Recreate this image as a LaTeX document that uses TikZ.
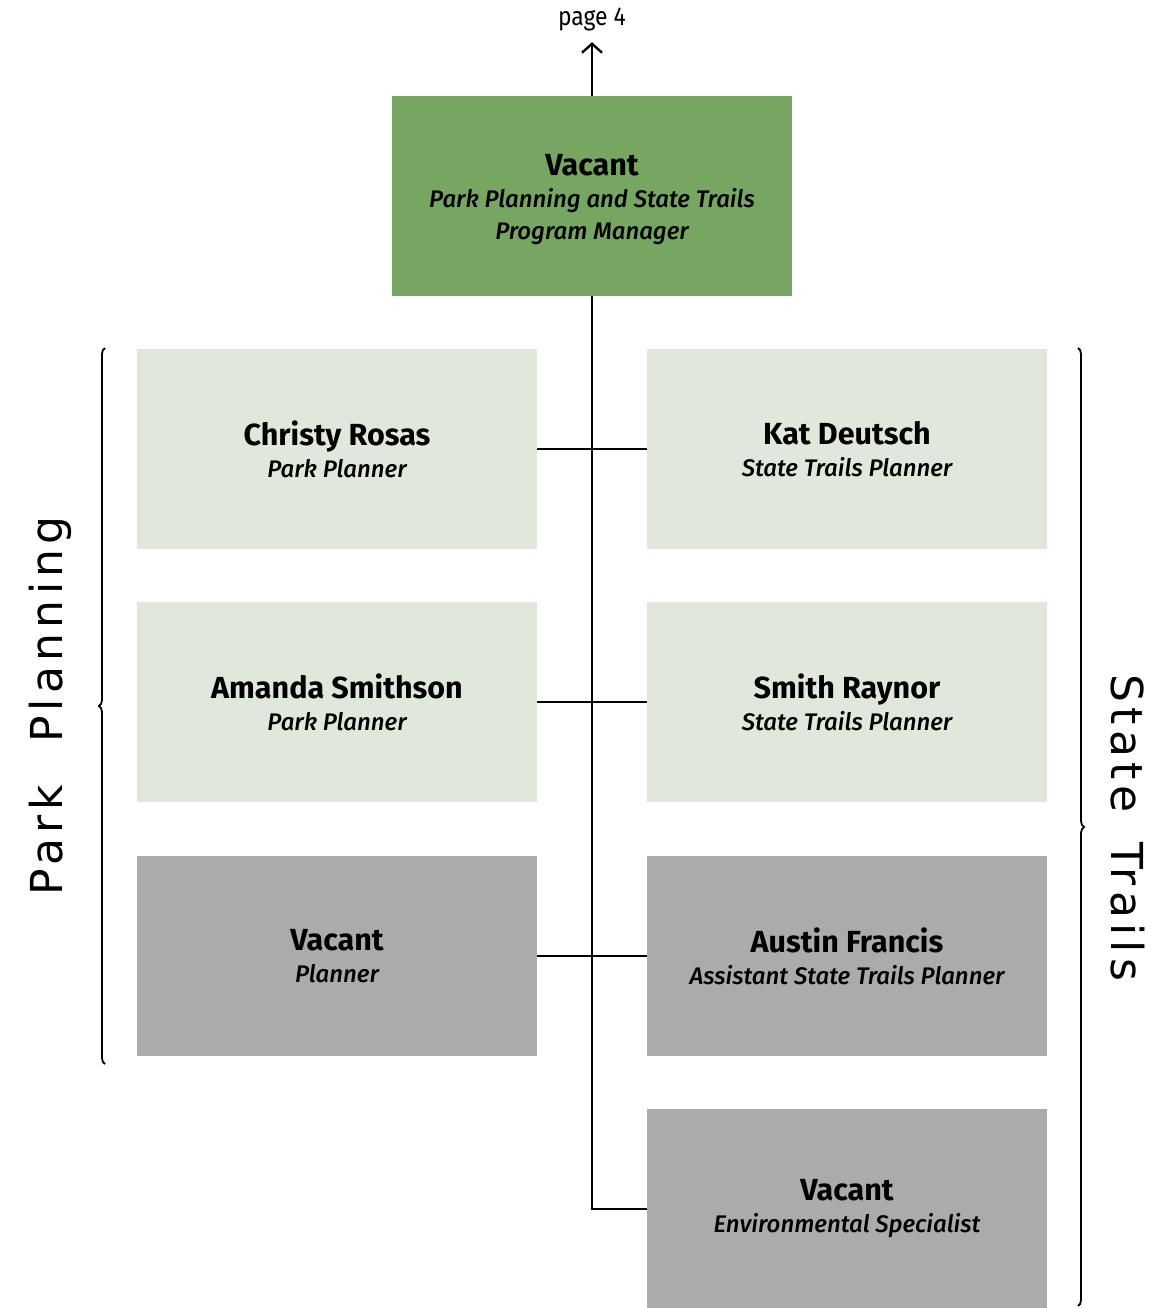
\documentclass[tikz,border=0pt]{standalone}
\usepackage{fontspec}
\setmainfont{Fira Sans}[BoldFont={Fira Sans Bold}, ItalicFont={Fira Sans Medium Italic}]
\newfontfamily\sidefont{DejaVu Sans}[LetterSpace=12]
\usetikzlibrary{arrows.meta,decorations.pathreplacing}
\definecolor{topgreen}{HTML}{76A661}
\definecolor{lightgreen}{HTML}{E0E8DB}
\definecolor{boxgray}{HTML}{ABABAB}
\tikzset{
  box/.style={minimum width=400pt, minimum height=200pt, inner sep=0pt, align=center, font=\fontsize{24}{32}\selectfont},
  topbox/.style={box, fill=topgreen},
  lightbox/.style={box, fill=lightgreen},
  graybox/.style={box, fill=boxgray},
  boxtext/.style={inner sep=0pt, align=center, font=\fontsize{24}{32}\selectfont},
  conn/.style={line width=2.4pt},
  bracestyle/.style={line width=1.8pt, decorate, decoration={brace, amplitude=6pt}},
  side/.style={font=\sidefont\fontsize{44}{50}\selectfont}
}
\newcommand{\nm}[1]{{\fontsize{30.5}{34}\selectfont\bfseries #1}}
\begin{document}
\begin{tikzpicture}[x=1pt,y=-1pt]
\useasboundingbox (0,0) rectangle (1153,1308);
\node[topbox] (top) at (592,196) {};
\node[boxtext] (toptext) at (592,200) {\nm{Vacant}\\\itshape Park Planning and State Trails\\\itshape Program Manager};
\node[lightbox] (cr) at (337,449) {\nm{Christy Rosas}\\\itshape Park Planner};
\node[lightbox] (kd) at (847,449) {\nm{Kat Deutsch}\\\itshape State Trails Planner};
\node[lightbox] (as) at (337,702) {\nm{Amanda Smithson}\\\itshape Park Planner};
\node[lightbox] (sr) at (847,702) {\nm{Smith Raynor}\\\itshape State Trails Planner};
\node[graybox] (vp) at (337,956) {\nm{Vacant}\\\itshape Planner};
\node[graybox] (af) at (847,956) {\nm{Austin Francis}\\\itshape Assistant State Trails Planner};
\node[graybox] (ve) at (847,1209) {\nm{Vacant}\\\itshape Environmental Specialist};
\node[font=\fontsize{26}{30}\selectfont\addfontfeature{FakeStretch=0.88}] (pg) at (592,19) {page 4};
\coordinate (spineend) at (592,1209);
\draw[conn, shorten >=8pt, -{Straight Barb[length=9pt,width=20pt,line width=2.4pt]}] (top.north) -- (pg.south);
\draw[conn] (top.south) -- (spineend) -- (ve.west);
\draw[conn] (cr.east) -- (kd.west);
\draw[conn] (as.east) -- (sr.west);
\draw[conn] (vp.east) -- (af.west);
\coordinate (lb1) at (105,1064);
\coordinate (lb2) at (105,348);
\coordinate (rb1) at (1078,348);
\coordinate (rb2) at (1078,1306);
\draw[bracestyle] (lb1) -- (lb2);
\draw[bracestyle] (rb1) -- (rb2);
\node[side, rotate=90] (pp) at (50,706) {Park\hspace{42pt}Planning};
\node[side, rotate=-90] (st) at (1128,828) {State\hspace{30pt}Trails};
\end{tikzpicture}
\end{document}
